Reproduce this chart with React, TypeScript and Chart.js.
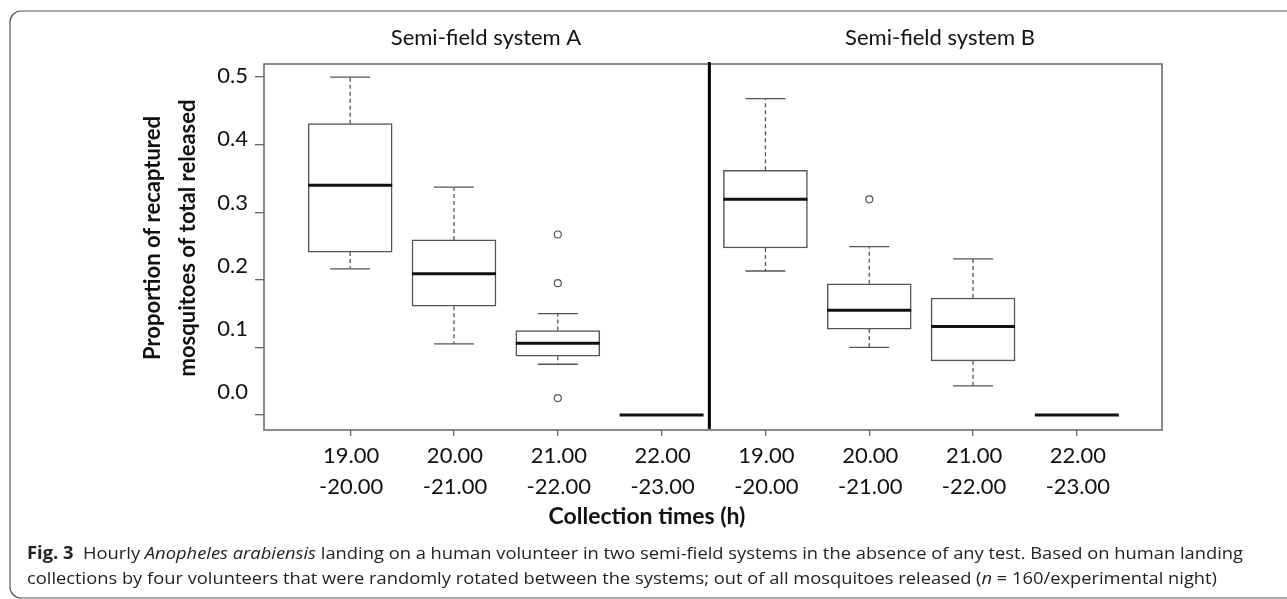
import React, { useEffect, useRef } from 'react';
import { Chart, registerables } from 'chart.js';

Chart.register(...registerables);

// ---------- data ----------
const positions = [1, 2, 3, 4, 5, 6, 7, 8];
const timeStarts = ['19.00', '20.00', '21.00', '22.00', '19.00', '20.00', '21.00', '22.00'];
const timeEnds = ['-20.00', '-21.00', '-22.00', '-23.00', '-20.00', '-21.00', '-22.00', '-23.00'];
const panelTitles = ['Semi-field system A', 'Semi-field system B'];
const whiskerLow = [0.216, 0.105, 0.075, 0, 0.213, 0.1, 0.043, 0];
const q1 = [0.241, 0.161, 0.087, 0, 0.247, 0.127, 0.08, 0];
const medians = [0.34, 0.209, 0.106, 0, 0.319, 0.155, 0.131, 0];
const q3 = [0.431, 0.259, 0.125, 0, 0.362, 0.194, 0.173, 0];
const whiskerHigh = [0.5, 0.337, 0.15, 0, 0.468, 0.249, 0.231, 0];
const outlierX = [3, 3, 3, 6];
const outlierY = [0.267, 0.195, 0.025, 0.319];
const yTickValues = [0, 0.1, 0.2, 0.3, 0.4, 0.5];
const yTickLabels = ['0.0', '0.1', '0.2', '0.3', '0.4', '0.5'];
const dividerAt = 4.46;
const xTitle = 'Collection times (h)';
const yTitleLines = ['Proportion of recaptured', 'mosquitoes of total released'];
const captionLine1 = [
  { t: 'Fig. 3', s: 'bold' },
  { t: '  Hourly ', s: '' },
  { t: 'Anopheles arabiensis', s: 'italic' },
  { t: ' landing on a human volunteer in two semi-field systems in the absence of any test. Based on human landing', s: '' },
];
const captionLine2 = [
  { t: 'collections by four volunteers that were randomly rotated between the systems; out of all mosquitoes released (', s: '' },
  { t: 'n', s: 'italic' },
  { t: ' = 160/experimental night)', s: '' },
];

const FONT = 'Lato, "Open Sans", sans-serif';
const CAP_FONT = '"Open Sans", "Noto Sans", sans-serif';

function drawSegments(ctx: CanvasRenderingContext2D, segs: { t: string; s: string }[], x: number, y: number, targetW: number, size: number) {
  let total = 0;
  const widths: number[] = [];
  for (const sg of segs) {
    ctx.font = `${sg.s} ${size}px ${CAP_FONT}`;
    const w = ctx.measureText(sg.t).width;
    widths.push(w);
    total += w;
  }
  const sx = targetW / total;
  ctx.save();
  ctx.translate(x, y);
  ctx.scale(sx, 1);
  let cx = 0;
  segs.forEach((sg, i) => {
    ctx.font = `${sg.s} ${size}px ${CAP_FONT}`;
    ctx.fillText(sg.t, cx, 0);
    cx += widths[i];
  });
  ctx.restore();
}

const boxPlugin = {
  id: 'boxExtras',
  afterDatasetsDraw(chart: any) {
    const { ctx, scales } = chart;
    const xs = scales.x;
    const ys = scales.y;
    const boxW = 84;
    const capW = 40;
    ctx.save();
    positions.forEach((p, i) => {
      const cx = xs.getPixelForValue(p);
      ctx.strokeStyle = '#555';
      ctx.lineWidth = 1.3;
      if (whiskerHigh[i] !== q3[i]) {
        ctx.setLineDash([4, 3]);
        ctx.beginPath();
        ctx.moveTo(cx, ys.getPixelForValue(q3[i]));
        ctx.lineTo(cx, ys.getPixelForValue(whiskerHigh[i]));
        ctx.moveTo(cx, ys.getPixelForValue(q1[i]));
        ctx.lineTo(cx, ys.getPixelForValue(whiskerLow[i]));
        ctx.stroke();
        ctx.setLineDash([]);
        ctx.beginPath();
        ctx.moveTo(cx - capW / 2, ys.getPixelForValue(whiskerHigh[i]));
        ctx.lineTo(cx + capW / 2, ys.getPixelForValue(whiskerHigh[i]));
        ctx.moveTo(cx - capW / 2, ys.getPixelForValue(whiskerLow[i]));
        ctx.lineTo(cx + capW / 2, ys.getPixelForValue(whiskerLow[i]));
        ctx.stroke();
      }
      ctx.strokeStyle = '#111';
      ctx.lineWidth = 3;
      ctx.beginPath();
      const my = ys.getPixelForValue(medians[i]);
      ctx.moveTo(cx - boxW / 2, my);
      ctx.lineTo(cx + boxW / 2, my);
      ctx.stroke();
    });
    ctx.restore();
  },
  afterDraw(chart: any) {
    const { ctx, scales, chartArea } = chart;
    const xs = scales.x;
    const ys = scales.y;
    ctx.save();
    // plot frame
    ctx.strokeStyle = '#666';
    ctx.lineWidth = 1.5;
    ctx.strokeRect(chartArea.left, chartArea.top, chartArea.right - chartArea.left, chartArea.bottom - chartArea.top);
    // divider
    const dx = xs.getPixelForValue(dividerAt);
    ctx.strokeStyle = '#000';
    ctx.lineWidth = 3;
    ctx.beginPath();
    ctx.moveTo(dx, chartArea.top - 2);
    ctx.lineTo(dx, chartArea.bottom - 1);
    ctx.stroke();

    // outer frame
    ctx.strokeStyle = '#555';
    ctx.lineWidth = 1.2;
    ctx.beginPath();
    ctx.moveTo(1300, 11);
    ctx.lineTo(21, 11);
    ctx.arcTo(10, 11, 10, 22, 11);
    ctx.lineTo(10, 587);
    ctx.arcTo(10, 598, 21, 598, 11);
    ctx.lineTo(1300, 598);
    ctx.stroke();

    ctx.fillStyle = '#111';
    ctx.textBaseline = 'middle';
    // panel titles
    ctx.textAlign = 'center';
    ctx.font = `22px ${FONT}`;
    ctx.fillText(panelTitles[0], 486, 38);
    ctx.fillText(panelTitles[1], 940, 38);

    // y tick labels
    ctx.textAlign = 'right';
    const topPx = ys.getPixelForValue(yTickValues[yTickValues.length - 1]);
    yTickValues.forEach((v, i) => {
      const py = topPx - 1 + (ys.getPixelForValue(v) - topPx) * 0.935;
      ctx.fillText(yTickLabels[i], 248, py);
    });

    // x tick labels
    ctx.textAlign = 'center';
    positions.forEach((p, i) => {
      const px = xs.getPixelForValue(p) + 1;
      ctx.fillText(timeStarts[i], px, 456);
      ctx.fillText(timeEnds[i], px, 487);
    });

    // x title
    ctx.font = `bold 23px ${FONT}`;
    ctx.fillText(xTitle, 647, 517);

    // y title
    ctx.save();
    ctx.translate(153, 238);
    ctx.rotate(-Math.PI / 2);
    ctx.font = `bold 22px ${FONT}`;
    ctx.fillText(yTitleLines[0], 0, 0);
    ctx.restore();
    ctx.save();
    ctx.translate(188, 238);
    ctx.rotate(-Math.PI / 2);
    ctx.font = `bold 22px ${FONT}`;
    ctx.fillText(yTitleLines[1], 0, 0);
    ctx.restore();

    // caption
    ctx.textAlign = 'left';
    ctx.fillStyle = '#222';
    drawSegments(ctx, captionLine1, 27, 554, 1216, 17);
    drawSegments(ctx, captionLine2, 27, 579, 1190, 17);
    ctx.restore();
  },
};

export default function App() {
  const ref = useRef<HTMLCanvasElement | null>(null);
  useEffect(() => {
    if (!ref.current) return;
    const chart = new Chart(ref.current, {
      type: 'bar',
      data: {
        datasets: [
          {
            type: 'bar',
            label: 'boxes',
            data: positions.map((p, i) => ({ x: p, y: [q1[i], q3[i]] })) as any,
            backgroundColor: '#ffffff',
            borderColor: '#555',
            borderWidth: 1.5,
            borderSkipped: false,
            barThickness: 84,
          } as any,
          {
            type: 'scatter',
            label: 'outliers',
            data: outlierX.map((x, i) => ({ x, y: outlierY[i] })),
            pointStyle: 'circle',
            pointRadius: 3.5,
            pointBorderWidth: 1.2,
            pointBorderColor: '#555',
            pointBackgroundColor: '#fff',
          } as any,
        ],
      },
      options: {
        animation: false,
        responsive: true,
        maintainAspectRatio: false,
        layout: { padding: { left: 0, top: 64, right: 125, bottom: 0 } },
        plugins: { legend: { display: false }, tooltip: { enabled: false } },
        scales: {
          x: {
            type: 'linear',
            min: 0.17,
            max: 8.82,
            offset: false,
            grid: { offset: false, drawOnChartArea: false, drawTicks: true, tickLength: 6, color: '#666', lineWidth: 1.3 },
            border: { display: false },
            ticks: { color: 'rgba(0,0,0,0)' },
            afterBuildTicks: (s: any) => {
              s.ticks = positions.map((v) => ({ value: v }));
            },
            afterFit: (s: any) => {
              s.height = 169;
            },
          },
          y: {
            type: 'linear',
            min: -0.0223,
            max: 0.5193,
            grid: { drawOnChartArea: false, drawTicks: true, tickLength: 9, color: '#666', lineWidth: 1.3 },
            border: { display: false },
            ticks: { color: 'rgba(0,0,0,0)' },
            afterBuildTicks: (s: any) => {
              s.ticks = yTickValues.map((v) => ({ value: v }));
            },
            afterFit: (s: any) => {
              s.width = 264;
            },
          },
        },
      } as any,
      plugins: [boxPlugin],
    });
    return () => chart.destroy();
  }, []);
  return (
    <div style={{ position: 'fixed', left: 0, top: 0, width: 1287, height: 599, background: '#fff' }}>
      <canvas ref={ref} />
    </div>
  );
}
